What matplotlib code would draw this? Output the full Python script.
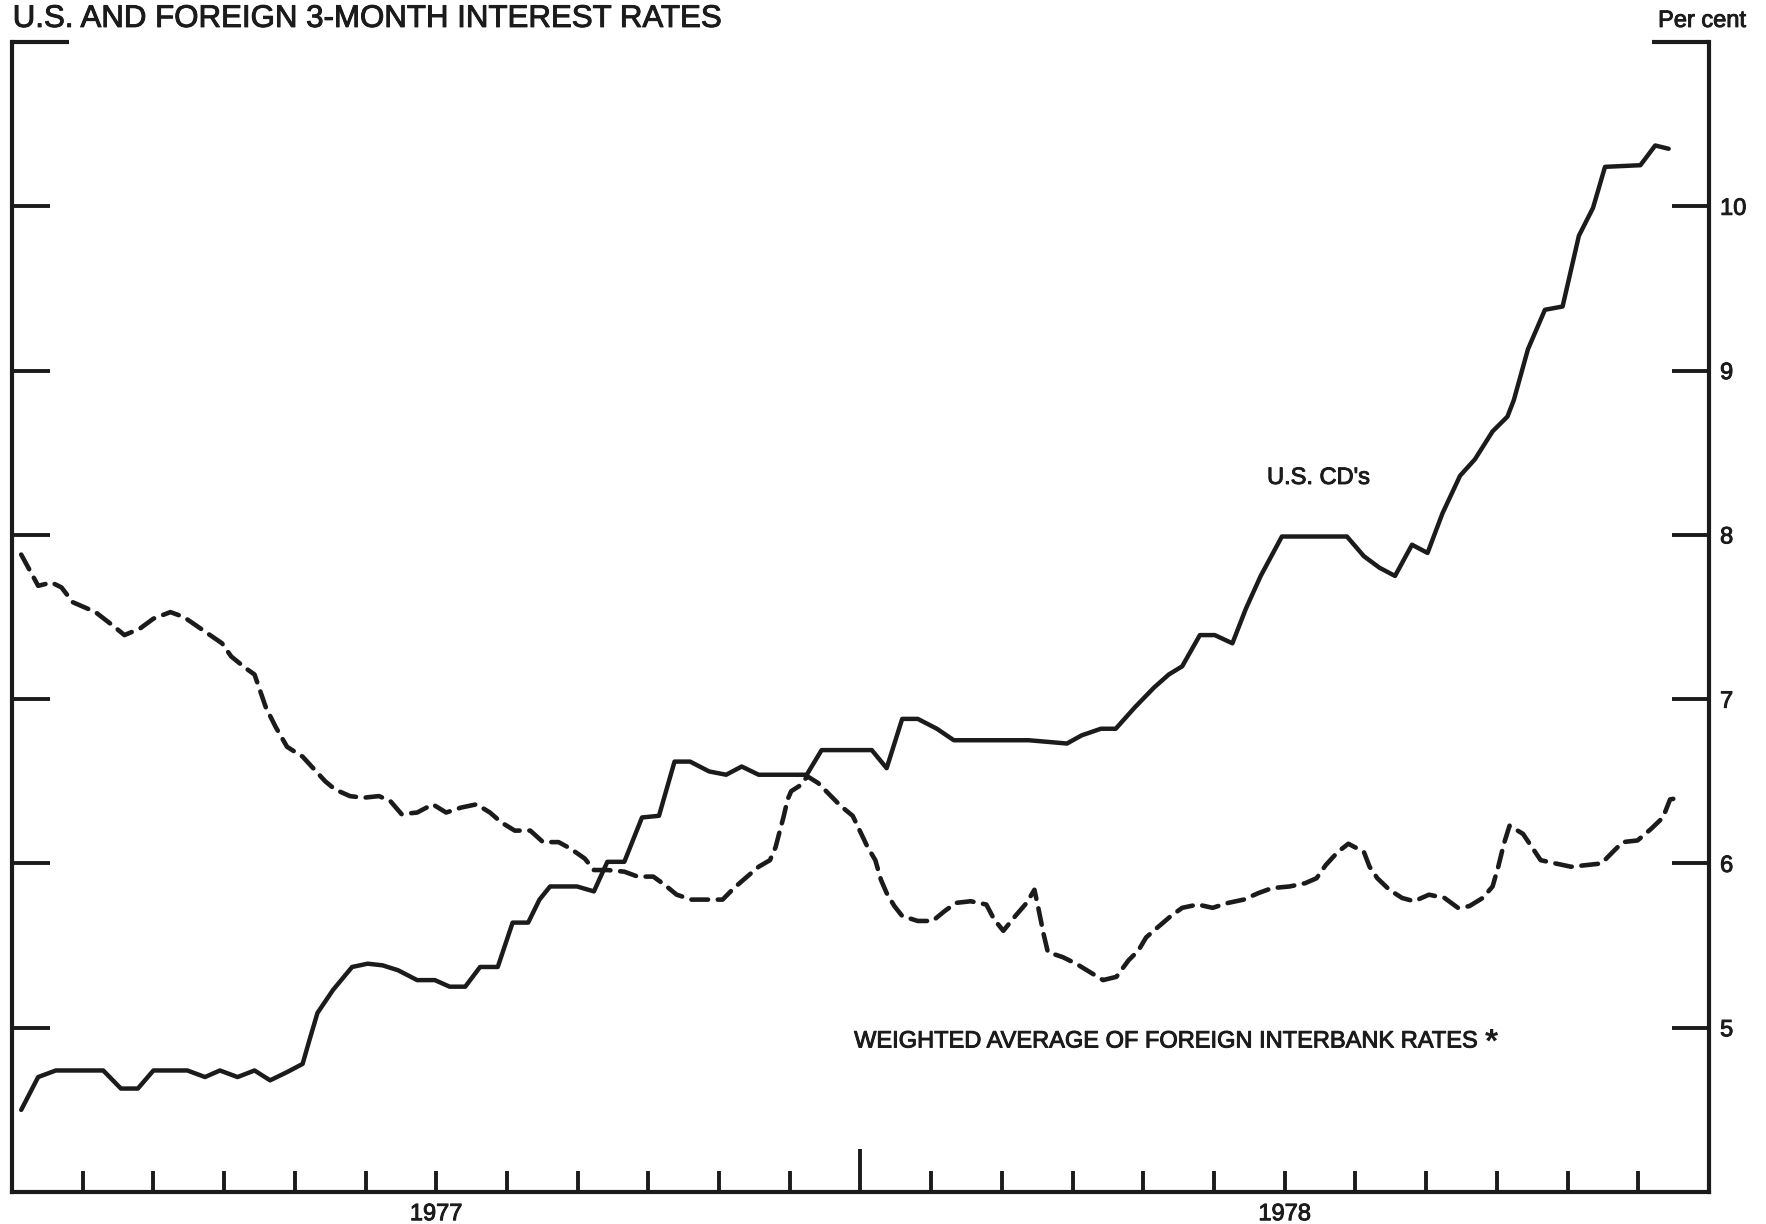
import matplotlib
matplotlib.use('Agg')
from matplotlib import pyplot as plt
import matplotlib.transforms as mtransforms
import matplotlib.patheffects as pe

## -----------------
## DATA (x = months since 1 Jan 1977)
## -----------------

# U.S. 3-month CD rate, per cent
cd_month = [0.13, 0.37, 0.62, 1.29, 1.54, 1.78, 2.00, 2.48, 2.73, 2.94, 3.19, 3.43,
            3.65, 3.89, 4.11, 4.21, 4.32, 4.54, 4.81, 5.03, 5.24, 5.46, 5.73, 5.98,
            6.19, 6.41, 6.62, 6.87, 7.08, 7.30, 7.46, 7.61, 7.99, 8.23, 8.42, 8.66,
            8.91, 9.15, 9.37, 9.59, 9.86, 10.10, 10.32, 10.56, 11.24, 11.45, 12.16, 12.37,
            12.59, 12.81, 13.08, 13.32, 14.38, 14.92, 15.13, 15.40, 15.61, 15.88, 16.15, 16.36,
            16.55, 16.80, 17.01, 17.26, 17.45, 17.66, 17.96, 18.88, 19.12, 19.34, 19.56, 19.80,
            20.02, 20.23, 20.48, 20.69, 20.94, 21.15, 21.24, 21.44, 21.68, 21.93, 22.16, 22.36,
            22.53, 23.03, 23.24, 23.43]
cd_rate = [4.50, 4.70, 4.74, 4.74, 4.63, 4.63, 4.74, 4.74, 4.70, 4.74, 4.70, 4.74,
           4.68, 4.73, 4.78, 4.93, 5.09, 5.23, 5.37, 5.39, 5.38, 5.35, 5.29, 5.29,
           5.25, 5.25, 5.37, 5.37, 5.64, 5.64, 5.78, 5.86, 5.86, 5.83, 6.01, 6.01,
           6.28, 6.29, 6.62, 6.62, 6.56, 6.54, 6.59, 6.54, 6.54, 6.69, 6.69, 6.58,
           6.88, 6.88, 6.82, 6.75, 6.75, 6.73, 6.78, 6.82, 6.82, 6.95, 7.07, 7.15,
           7.20, 7.39, 7.39, 7.34, 7.55, 7.75, 7.99, 7.99, 7.87, 7.80, 7.75, 7.94,
           7.89, 8.13, 8.36, 8.46, 8.63, 8.72, 8.82, 9.13, 9.37, 9.39, 9.82, 9.99,
           10.24, 10.25, 10.37, 10.35]

# weighted average of foreign interbank rates, per cent
fx_month = [0.13, 0.37, 0.56, 0.70, 0.86, 1.18, 1.45, 1.59, 1.81, 2.00, 2.24, 2.43,
            2.70, 2.97, 3.10, 3.30, 3.43, 3.59, 3.73, 3.89, 4.11, 4.43, 4.57, 4.78,
            4.97, 5.19, 5.35, 5.51, 5.73, 5.95, 6.14, 6.35, 6.57, 6.76, 6.92, 7.11,
            7.33, 7.51, 7.73, 7.90, 8.10, 8.23, 8.42, 8.66, 8.85, 9.07, 9.23, 9.40,
            9.61, 10.05, 10.21, 10.37, 10.56, 10.72, 10.80, 10.86, 10.91, 10.97, 11.02, 11.13,
            11.25, 11.40, 11.56, 11.72, 11.89, 11.99, 12.10, 12.21, 12.29, 12.37, 12.48, 12.59,
            12.81, 13.02, 13.19, 13.35, 13.56, 13.78, 13.89, 14.02, 14.19, 14.35, 14.46, 14.51,
            14.59, 14.65, 14.86, 15.05, 15.24, 15.43, 15.62, 15.79, 15.93, 16.04, 16.20, 16.39,
            16.55, 16.77, 16.98, 17.20, 17.42, 17.63, 17.82, 18.07, 18.29, 18.45, 18.58, 18.75,
            18.90, 19.12, 19.20, 19.31, 19.48, 19.66, 19.83, 20.04, 20.26, 20.45, 20.61, 20.80,
            20.94, 21.02, 21.10, 21.18, 21.37, 21.51, 21.62, 21.83, 22.05, 22.26, 22.48, 22.64,
            22.78, 22.99, 23.18, 23.35, 23.45, 23.59]
fx_rate = [7.88, 7.69, 7.71, 7.68, 7.59, 7.53, 7.44, 7.39, 7.43, 7.49, 7.53, 7.50,
           7.42, 7.34, 7.26, 7.19, 7.15, 6.95, 6.83, 6.71, 6.65, 6.50, 6.45, 6.41,
           6.40, 6.41, 6.38, 6.30, 6.31, 6.36, 6.31, 6.34, 6.36, 6.31, 6.25, 6.20,
           6.20, 6.13, 6.13, 6.09, 6.03, 5.96, 5.96, 5.95, 5.92, 5.92, 5.87, 5.81,
           5.78, 5.78, 5.85, 5.91, 5.98, 6.02, 6.10, 6.20, 6.28, 6.39, 6.44, 6.47,
           6.53, 6.49, 6.42, 6.35, 6.29, 6.20, 6.10, 6.02, 5.90, 5.82, 5.74, 5.68,
           5.65, 5.65, 5.71, 5.76, 5.77, 5.75, 5.66, 5.59, 5.68, 5.76, 5.84, 5.74,
           5.57, 5.46, 5.43, 5.39, 5.34, 5.29, 5.31, 5.41, 5.47, 5.55, 5.61, 5.68,
           5.73, 5.75, 5.73, 5.76, 5.78, 5.82, 5.85, 5.86, 5.88, 5.91, 5.99, 6.07,
           6.12, 6.07, 5.98, 5.91, 5.84, 5.79, 5.77, 5.81, 5.79, 5.73, 5.74, 5.79,
           5.86, 5.98, 6.12, 6.23, 6.18, 6.09, 6.02, 6.00, 5.98, 5.99, 6.00, 6.07,
           6.13, 6.14, 6.21, 6.28, 6.39, 6.40]

# axis ticks and labels
month_ticks = [m for m in range(1, 24) if m != 12]
year_tick = [12]
year_label_pos = [6, 18]
year_labels = ['1977', '1978']
rate_ticks = [5, 6, 7, 8, 9, 10]

## -----------------
##  CHARTING
## -----------------

ink = '#1b1b1b'
plt.rcParams['font.family'] = ['Liberation Sans', 'DejaVu Sans']
plt.rcParams['lines.scale_dashes'] = False

# printed text is a little heavier than the regular face
heavy = [pe.withStroke(linewidth=0.7, foreground=ink)]

fig = plt.figure(figsize=(17.66, 12.24), dpi=100)
fig.patch.set_facecolor('white')
ax = fig.add_axes([0.0068, 0.0261, 0.9609, 0.9396])
ax.set_xlim(0, 24)
ax.set_ylim(4, 11)

# U.S. CD's - solid
ax.plot(cd_month, cd_rate, color=ink, linewidth=3.2, solid_joinstyle='round', solid_capstyle='round')
# foreign interbank rates - dashed
ax.plot(fx_month, fx_rate, color=ink, linewidth=3.3, dashes=(12, 7), dash_capstyle='round')

# frame: left, right and bottom only
for side in ['left', 'right', 'bottom']:
    ax.spines[side].set_linewidth(3.0)
    ax.spines[side].set_color(ink)
ax.spines['top'].set_visible(False)

# x ticks: months, taller one at the turn of the year
ax.set_xticks(month_ticks)
ax.set_xticks(year_tick, minor=True)
ax.tick_params(axis='x', which='major', direction='in', length=15, width=2.8, color=ink, labelbottom=False)
ax.tick_params(axis='x', which='minor', direction='in', length=31, width=2.8, color=ink, labelbottom=False)

# y ticks on both sides, labels on the right
ax.set_yticks(rate_ticks)
ax.set_yticks([11], minor=True)
ax.tick_params(axis='y', which='major', direction='in', length=27, width=2.8, color=ink,
               left=True, right=True, labelleft=False, labelright=True,
               labelsize=17, labelcolor=ink, pad=8)
ax.tick_params(axis='y', which='minor', direction='in', length=41, width=3.0, color=ink,
               left=True, right=True, labelleft=False, labelright=False)
for lab in ax.get_yticklabels():
    lab.set_path_effects(heavy)

# year labels under the axis
trans = mtransforms.blended_transform_factory(ax.transData, ax.transAxes)
for pos, lab in zip(year_label_pos, year_labels):
    ax.annotate(lab, xy=(pos, 0), xycoords=trans, xytext=(0, -8), textcoords='offset points',
                ha='center', va='top', fontsize=17, color=ink, path_effects=heavy)

# series labels
ax.text(17.75, 8.31, "U.S. CD's", fontsize=17, color=ink, ha='left', va='baseline', path_effects=heavy)
fx_label = ax.text(11.91, 4.88, 'WEIGHTED AVERAGE OF FOREIGN INTERBANK RATES', fontsize=17, color=ink,
                   ha='left', va='baseline', path_effects=heavy)
ax.annotate('*', xy=(1, 0.45), xycoords=fx_label, xytext=(6, 0), textcoords='offset points',
            fontsize=24, fontweight='bold', color=ink, ha='left', va='center')

# title and unit
fig.text(0.0072, 0.978, 'U.S. AND FOREIGN 3-MONTH INTEREST RATES', fontsize=22.5, color=ink,
         ha='left', va='baseline', path_effects=heavy)
fig.text(0.9638, 0.978, 'Per cent', fontsize=17, color=ink, ha='center', va='baseline', path_effects=heavy)

fig.savefig('out.png', dpi=100, facecolor='white')
